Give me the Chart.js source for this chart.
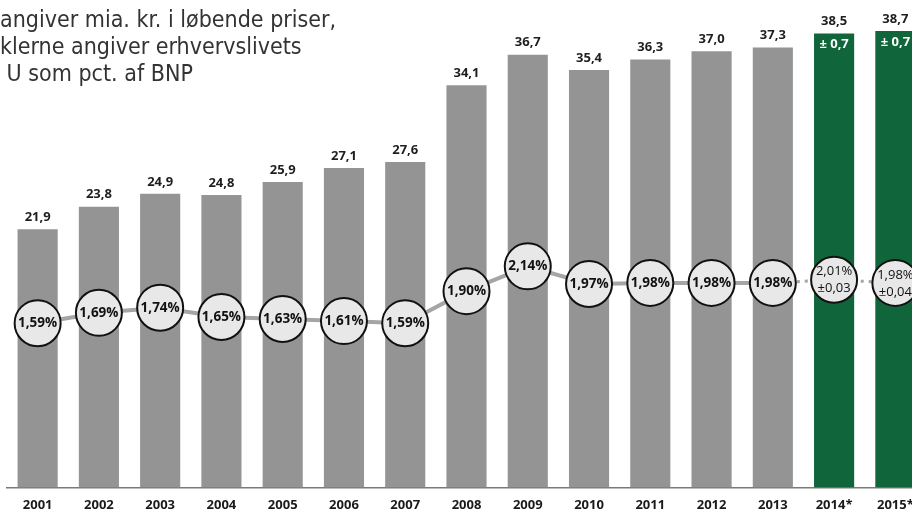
<!DOCTYPE html>
<html lang="da">
<head>
<meta charset="utf-8">
<title>FoU i erhvervslivet</title>
<script src="https://cdn.jsdelivr.net/npm/chart.js@4.4.1/dist/chart.umd.min.js"></script>
<style>
  html, body { margin: 0; padding: 0; background: #fff; overflow: hidden; }
  #wrap { position: relative; width: 926px; height: 513px; }
  #note {
    position: absolute; left: 0; top: 6px; z-index: 2;
    font-family: "Liberation Sans Narrow", "DejaVu Sans Condensed", sans-serif;
    font-size: 23px; line-height: 27px; color: #333; white-space: nowrap;
  }
</style>
</head>
<body>
<div id="wrap">
  <div id="note">angiver mia. kr. i løbende priser,<br>klerne angiver erhvervslivets<br>&nbsp;U som pct. af BNP</div>
  <canvas id="chart"></canvas>
</div>
<script>
const years = ["2001", "2002", "2003", "2004", "2005", "2006", "2007", "2008",
  "2009", "2010", "2011", "2012", "2013", "2014*", "2015*"];
// erhvervslivets FoU, mia. kr.
const spending = [21.9, 23.8, 24.9, 24.8, 25.9, 27.1, 27.6, 34.1, 36.7, 35.4, 36.3, 37.0, 37.3, 38.5, 38.7];
const spendingMargin = [null, null, null, null, null, null, null, null, null, null, null, null, null, 0.7, 0.7];
// FoU som pct. af BNP
const shareOfGdp = [1.59, 1.69, 1.74, 1.65, 1.63, 1.61, 1.59, 1.90, 2.14, 1.97, 1.98, 1.98, 1.98, 2.01, 1.98];
const shareMargin = [null, null, null, null, null, null, null, null, null, null, null, null, null, 0.03, 0.04];

const firstEstimate = 13;
const GREY = "#949494";
const GREEN = "#10663a";
const LABEL_FONT = '"Open Sans", "DejaVu Sans", sans-serif';

function fmt(num, digits) {
  return num.toFixed(digits).replace(".", ",");
}

const labelPlugin = {
  id: "valueLabels",
  afterDatasetsDraw(chart) {
    const ctx = chart.ctx;
    const barMeta = chart.getDatasetMeta(1);
    const lineMeta = chart.getDatasetMeta(0);
    ctx.save();
    ctx.textAlign = "center";
    ctx.textBaseline = "middle";

    barMeta.data.forEach((bar, i) => {
      ctx.font = "bold 13px " + LABEL_FONT;
      ctx.fillStyle = "#1e1e1e";
      ctx.fillText(fmt(spending[i], 1), bar.x, bar.y - 12);
      if (spendingMargin[i] != null) {
        ctx.fillStyle = "#fff";
        ctx.fillText("± " + fmt(spendingMargin[i], 1), bar.x, bar.y + 11);
      }
    });

    lineMeta.data.forEach((pt, i) => {
      ctx.fillStyle = "#111";
      if (shareMargin[i] != null) {
        ctx.font = "13px " + LABEL_FONT;
        ctx.fillText(fmt(shareOfGdp[i], 2) + "%", pt.x, pt.y - 8);
        ctx.fillText("±" + fmt(shareMargin[i], 2), pt.x, pt.y + 9);
      } else {
        ctx.font = "bold 13.5px " + LABEL_FONT;
        ctx.fillText(fmt(shareOfGdp[i], 2) + "%", pt.x, pt.y);
      }
    });
    ctx.restore();
  }
};

new Chart(document.getElementById("chart"), {
  data: {
    labels: years,
    datasets: [
      {
        type: "line",
        order: 0,
        data: shareOfGdp,
        yAxisID: "y1",
        borderColor: "#a5a5a5",
        borderWidth: 4,
        pointRadius: 23,
        pointBackgroundColor: "#e8e8e8",
        pointBorderColor: "#111",
        pointBorderWidth: 2,
        segment: {
          borderDash: c => c.p1DataIndex >= firstEstimate ? [3, 5] : undefined,
          borderWidth: c => c.p1DataIndex >= firstEstimate ? 3 : 4
        }
      },
      {
        type: "bar",
        order: 1,
        data: spending,
        yAxisID: "y",
        backgroundColor: spending.map((v, i) => i >= firstEstimate ? GREEN : GREY),
        categoryPercentage: 1,
        barPercentage: 0.655
      }
    ]
  },
  options: {
    responsive: true,
    maintainAspectRatio: false,
    animation: false,
    layout: { autoPadding: false, padding: { left: 7, right: 0, top: 4, bottom: -10 } },
    plugins: { legend: { display: false }, tooltip: { enabled: false } },
    scales: {
      x: {
        grid: { display: false, drawTicks: false },
        border: { display: true, color: "#7a7a7a", width: 1.5 },
        ticks: {
          padding: 10,
          color: "#1a1a1a",
          font: { family: LABEL_FONT, size: 13, weight: "bold" }
        }
      },
      y: { display: false, min: 0, max: 41 },
      y1: { display: false, min: 0, max: 4.68 }
    }
  },
  plugins: [labelPlugin]
});
</script>
</body>
</html>
